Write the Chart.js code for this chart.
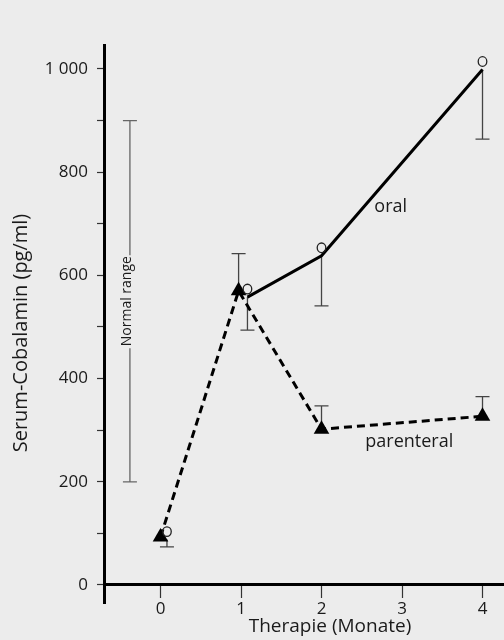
<!DOCTYPE html>
<html>
<head>
<meta charset="utf-8">
<script src="https://cdn.jsdelivr.net/npm/chart.js@4"></script>
<style>
  html, body { margin: 0; padding: 0; background: #ececec; }
  #wrap { width: 504px; height: 640px; position: relative; }
</style>
</head>
<body>
<div id="wrap"><canvas id="chart"></canvas></div>
<script>
// oral: circles, solid line (lower error bars)
const oralX = [0.08, 1.08, 2, 4];
const oralY = [88, 558, 638, 999];
const oralLow = [74, 494, 541, 864];

// parenteral: triangles, dashed line (upper error bars)
const parX = [0, 0.97, 2, 4];
const parY = [93, 570, 302, 327];
const parHigh = [null, 642, 347, 365];

// normal range bar
const normalX = -0.38;
const normalRange = [200, 900];

const xTicks = [0, 1, 2, 3, 4];
const yLabelled = [0, 200, 400, 600, 800, 1000];

const FONT = '"Open Sans", "DejaVu Sans", sans-serif';
const INK = '#1a1a1a';

function pts(xs, ys) {
    return xs.map((x, i) => ({ x: x, y: ys[i] }));
}

const extras = {
    id: 'extras',
    beforeDatasetsDraw(chart) {
        const ctx = chart.ctx;
        const xs = chart.scales.x, ys = chart.scales.y;
        ctx.save();

        // normal range
        let nx = xs.getPixelForValue(normalX);
        let y0 = ys.getPixelForValue(normalRange[0]);
        let y1 = ys.getPixelForValue(normalRange[1]);
        let mid = (y0 + y1) / 2;
        ctx.strokeStyle = '#666';
        ctx.lineWidth = 1.3;
        ctx.beginPath();
        ctx.moveTo(nx, y1); ctx.lineTo(nx, mid - 46);
        ctx.moveTo(nx, mid + 47); ctx.lineTo(nx, y0);
        ctx.moveTo(nx - 7, y1); ctx.lineTo(nx + 7, y1);
        ctx.moveTo(nx - 7, y0); ctx.lineTo(nx + 7, y0);
        ctx.stroke();
        ctx.save();
        ctx.translate(nx - 3, mid);
        ctx.rotate(-Math.PI / 2);
        ctx.fillStyle = INK;
        ctx.font = '14px ' + FONT;
        ctx.textAlign = 'center';
        ctx.textBaseline = 'middle';
        ctx.fillText('Normal range', 0, 0);
        ctx.restore();

        // error bars
        ctx.strokeStyle = '#444';
        ctx.lineWidth = 1.3;
        const bars = [[0, oralLow], [1, parHigh]];
        bars.forEach(([di, ends]) => {
            chart.getDatasetMeta(di).data.forEach((el, i) => {
                if (ends[i] == null) return;
                let ey = ys.getPixelForValue(ends[i]);
                ctx.beginPath();
                ctx.moveTo(el.x, el.y);
                ctx.lineTo(el.x, ey);
                ctx.moveTo(el.x - 7, ey);
                ctx.lineTo(el.x + 7, ey);
                ctx.stroke();
            });
        });
        ctx.restore();
    },
    afterDatasetsDraw(chart) {
        const ctx = chart.ctx;
        ctx.save();
        // oral markers
        ctx.strokeStyle = '#222';
        ctx.lineWidth = 1.3;
        chart.getDatasetMeta(0).data.forEach(el => {
            ctx.beginPath();
            ctx.ellipse(el.x, el.y - 8, 4.3, 4.8, 0, 0, Math.PI * 2);
            ctx.stroke();
        });

        // series labels
        const xs = chart.scales.x, ys = chart.scales.y;
        ctx.fillStyle = INK;
        ctx.textAlign = 'center';
        ctx.textBaseline = 'middle';
        ctx.font = '18px ' + FONT;
        ctx.fillText('oral', xs.getPixelForValue(2.86), ys.getPixelForValue(733));
        ctx.fillText('parenteral', xs.getPixelForValue(3.09), ys.getPixelForValue(277));

        // axis titles
        ctx.font = '19px ' + FONT;
        ctx.fillText('Therapie (Monate)', 330, 627);
        ctx.font = '20px ' + FONT;
        ctx.translate(21, 333);
        ctx.rotate(-Math.PI / 2);
        ctx.fillText('Serum-Cobalamin (pg/ml)', 0, 0);
        ctx.restore();
    }
};

new Chart(document.getElementById('chart'), {
    type: 'line',
    data: {
        datasets: [{
            label: 'oral',
            data: pts(oralX, oralY),
            borderColor: '#000',
            borderWidth: 3,
            pointRadius: 0,
            segment: {
                borderColor: c => c.p0DataIndex === 0 ? 'rgba(0,0,0,0)' : '#000'
            }
        }, {
            label: 'parenteral',
            data: pts(parX, parY),
            borderColor: '#000',
            borderWidth: 3,
            borderDash: [8, 5],
            pointStyle: 'triangle',
            pointRadius: 9,
            pointBackgroundColor: '#000',
            pointBorderWidth: 0
        }]
    },
    options: {
        responsive: true,
        maintainAspectRatio: false,
        animation: false,
        layout: { autoPadding: false, padding: { top: 45, right: 0, bottom: 37, left: 0 } },
        plugins: {
            legend: { display: false },
            tooltip: { enabled: false }
        },
        scales: {
            x: {
                type: 'linear',
                min: -0.702,
                max: 4.267,
                position: { y: 0 },
                border: { display: true, color: '#000', width: 3 },
                grid: { drawOnChartArea: false, drawTicks: true, tickLength: 12, tickColor: '#333', tickWidth: 1.2 },
                afterBuildTicks: s => { s.ticks = xTicks.map(v => ({ value: v })); },
                afterFit: s => { s.paddingLeft = 0; s.paddingRight = 0; },
                ticks: {
                    padding: 2,
                    color: INK,
                    font: { family: FONT, size: 17 },
                    callback: v => String(v)
                }
            },
            y: {
                min: -34.9,
                max: 1046.5,
                border: { display: true, color: '#000', width: 3 },
                grid: { drawOnChartArea: false, drawTicks: true, tickLength: 7, tickColor: '#333', tickWidth: 1.2 },
                afterFit: s => { s.width = 104; s.paddingTop = 0; s.paddingBottom = 0; },
                ticks: {
                    stepSize: 100,
                    includeBounds: false,
                    padding: 9,
                    color: INK,
                    font: { family: FONT, size: 17 },
                    callback: v => yLabelled.includes(v) ? (v === 1000 ? '1 000' : String(v)) : ''
                }
            }
        }
    },
    plugins: [extras]
});
</script>
</body>
</html>
